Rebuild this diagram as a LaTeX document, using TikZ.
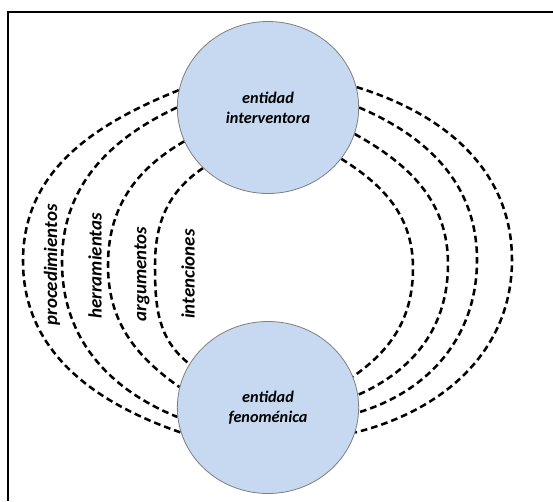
\documentclass[tikz,border=0pt]{standalone}
\usepackage{fontspec}
\setmainfont{Carlito}
\usepackage{xcolor}
\usepackage{tikz}
\usetikzlibrary{shapes.geometric,backgrounds}
\definecolor{fillblue}{HTML}{C6D9F1}
\definecolor{edge}{HTML}{7F7F7F}
\tikzset{
  entity/.style={ellipse, draw=edge, line width=0.6pt, fill=fillblue,
    minimum width=136pt, minimum height=129pt, inner sep=0pt,
    align=center, font=\fontsize{12.2}{15}\selectfont\bfseries\itshape},
  link/.style={draw=black, line width=1.9pt, dash pattern=on 5pt off 3pt},
  lab/.style={rotate=90, font=\fontsize{14.2}{16}\selectfont\bfseries\itshape},
  frame/.style={draw=black, line width=1.5pt}
}

\begin{document}
\begin{tikzpicture}[x=0.75pt, y=0.75pt]
  \useasboundingbox (0,0) rectangle (553,501);

  % frame
  \coordinate (fb) at (8,0);
  \coordinate (fc) at (8,489);
  \coordinate (fr) at (553,489);
  \draw[frame] (fb) -- (fc) -- (fr);

  % the two entities
  \node[entity] (ti) at (268,393.5) {entidad\\interventora};
  \node[entity] (fe) at (268,93.5) {entidad\\fenoménica};

  % apex points of the dashed arcs
  \coordinate (p1) at (23,240);
  \coordinate (p2) at (62,239);
  \coordinate (p3) at (108,236);
  \coordinate (p4) at (155,236);
  \coordinate (q1) at (512,241);
  \coordinate (q2) at (477,241);
  \coordinate (q3) at (448,237);
  \coordinate (q4) at (413,233);

  % arcs behind the circles
  \begin{scope}[on background layer]
  \draw[link] (ti.169) to[out=202,in=90] (p1) to[out=-90,in=161] (fe.196);
  \draw[link] (ti.180) to[out=205,in=90] (p2) to[out=-90,in=158] (fe.186);
  \draw[link] (ti.202) to[out=210,in=90] (p3) to[out=-90,in=145] (fe.167);
  \draw[link] (ti.223) to[out=214,in=90] (p4) to[out=-90,in=142] (fe.151);

  \draw[link] (ti.13) to[out=-17,in=90] (q1) to[out=-90,in=14] (fe.-16);
  \draw[link] (ti.0) to[out=-23,in=90] (q2) to[out=-90,in=17] (fe.-3);
  \draw[link] (ti.-17) to[out=-29,in=90] (q3) to[out=-90,in=24] (fe.8);
  \draw[link] (ti.-35) to[out=-32,in=90] (q4) to[out=-90,in=35] (fe.20);
  \end{scope}

  % labels
  \node[lab] (l1) at (52,236) {procedimientos};
  \node[lab] (l2) at (95,235) {herramientas};
  \node[lab] (l3) at (142,227) {argumentos};
  \node[lab] (l4) at (188,227) {intenciones};
\end{tikzpicture}
\end{document}
